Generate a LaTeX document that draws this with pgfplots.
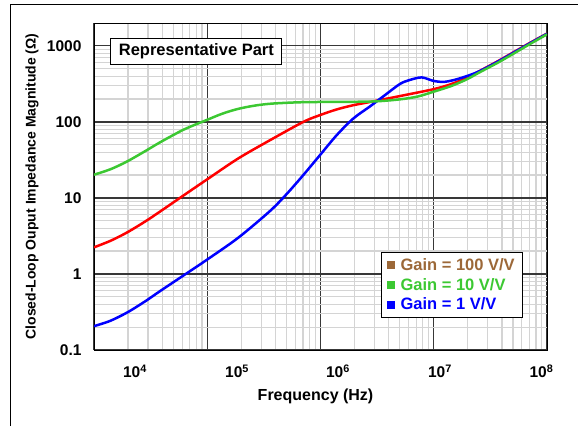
\documentclass[border=0pt]{standalone}
\usepackage{fontspec}
\setmainfont{Liberation Sans}
\usepackage{pgfplots}
\pgfplotsset{compat=1.18}
\definecolor{cred}{RGB}{255,0,0}
\definecolor{cblue}{RGB}{0,0,255}
\definecolor{cgreen}{RGB}{60,200,50}
\definecolor{cbrown}{RGB}{156,104,56}

\begin{document}
\begin{tikzpicture}
\path[use as bounding box] (0pt,0pt) rectangle (578pt,426pt);
% page frame, only left and top edges show
\draw[line width=1pt] (10.7pt,0pt) -- (10.7pt,421.7pt) -- (578pt,421.7pt);
\begin{axis}[
    at={(94pt,76pt)}, anchor=south west,
    scale only axis, width=453pt, height=327pt,
    xmode=log, ymode=log,
    xmin=1e4, xmax=1e8, ymin=0.1, ymax=2000,
    xtick={1e4,1e5,1e6,1e7,1e8}, xticklabels={{},{},{},{},{}},
    ytick={0.1,1,10,100,1000},
    yticklabels={0.1,1,10,100,1000},
    % labels sit off the decade grid lines, as in the source
    extra x ticks={2.301e4,1.832e5,1.426e6,1.135e7,8.93e7},
    extra x tick labels={10\textsuperscript{4},10\textsuperscript{5},10\textsuperscript{6},10\textsuperscript{7},10\textsuperscript{8}},
    extra x tick style={grid=none, major tick length=0pt,
      tick label style={anchor=center, yshift=-21pt}},
    major tick length=0pt, minor tick length=0pt,
    grid=both,
    major grid style={black!78, line width=1.2pt},
    minor grid style={black!17, line width=1.2pt},
    axis line style={black, line width=1pt},
    tick label style={font=\bfseries\fontsize{15.5}{18}\selectfont},
    yticklabel style={xshift=-9pt},
    xlabel={Frequency (Hz)},
    ylabel={Closed-Loop Ouput Impedance Magnitude (Ω)},
    xlabel style={font=\bfseries\fontsize{16}{18}\selectfont,
      at={(axis description cs:0.489,-0.1407)}, anchor=center},
    ylabel style={font=\bfseries\fontsize{14}{16}\selectfont,
      at={(axis description cs:-0.137,0.5)}, anchor=center},
    legend style={at={(0.633,0.3006)}, anchor=north west,
      draw=black, line width=0.8pt, fill=white,
      font=\bfseries\fontsize{16.5}{18}\selectfont,
      inner xsep=6pt, inner ysep=4pt, row sep=2.5pt,
      /tikz/every odd column/.append style={column sep=4pt}},
    legend cell align=left,
  ]
  % Gain = 100 V/V (red)
  \addplot[cred, line width=2.5pt, smooth, forget plot] coordinates {
    (1e4,2.24) (1.413e4,2.75) (1.968e4,3.53) (2.818e4,4.88) (3.881e4,6.71)
    (6.237e4,10.9) (1e5,17.6) (1.879e5,33.1) (3.581e5,57.5) (7.047e5,100)
    (9.908e5,123) (1.39e6,146) (1.95e6,166) (2.735e6,183) (5.035e6,219)
    (9.908e6,269) (1.413e7,313) (1.954e7,380) (2.559e7,470) (3.846e7,653)
    (7.079e7,1096) (1e8,1452)
  };
  % Gain = 1 V/V (blue)
  \addplot[cblue, line width=2.5pt, smooth, forget plot] coordinates {
    (1e4,0.206) (1.384e4,0.241) (1.968e4,0.312) (2.818e4,0.435) (3.881e4,0.603)
    (6.237e4,0.966) (1e5,1.55) (1.879e5,3.0) (3.581e5,6.73) (5.035e5,11.3)
    (7.047e5,20.0) (9.908e5,36.7) (1.39e6,67) (1.95e6,111) (2.735e6,160)
    (3.69e6,224) (5.035e6,316) (6.166e6,357) (7.834e6,385) (9.908e6,347)
    (1.213e7,336) (1.489e7,354) (1.954e7,400) (2.559e7,468) (3.846e7,645)
    (7.079e7,1085) (1e8,1445)
  };
  % Gain = 10 V/V (green)
  \addplot[cgreen, line width=2.5pt, smooth, forget plot] coordinates {
    (1e4,20.2) (1.413e4,24) (1.968e4,30.3) (2.818e4,41.1) (3.881e4,54.5)
    (6.237e4,79.6) (1e5,106.7) (1.371e5,129) (1.879e5,148.6) (2.63e5,164)
    (3.707e5,174) (6.31e5,181) (9.908e5,183) (2.818e6,185.5) (5.012e6,198)
    (7.244e6,216) (9.908e6,249) (1.413e7,295) (1.954e7,363) (2.559e7,452)
    (3.846e7,624) (7.079e7,1059) (1e8,1419)
  };
  \addlegendimage{legend image code/.code={\fill[cbrown] (0pt,-3.3pt) rectangle (6.6pt,3.3pt);}}
  \addlegendentry{\textcolor{cbrown}{Gain = 100 V/V}}
  \addlegendimage{legend image code/.code={\fill[cgreen] (0pt,-3.3pt) rectangle (6.6pt,3.3pt);}}
  \addlegendentry{\textcolor{cgreen}{Gain = 10 V/V}}
  \addlegendimage{legend image code/.code={\fill[cblue] (0pt,-3.3pt) rectangle (6.6pt,3.3pt);}}
  \addlegendentry{\textcolor{cblue}{Gain = 1 V/V}}
  \node[draw=black, line width=0.8pt, fill=white, inner xsep=8pt, inner ysep=5pt,
    font=\bfseries\fontsize{16.5}{19}\selectfont]
    at (rel axis cs:0.226,0.913) {Representative Part};
\end{axis}
\end{tikzpicture}
\end{document}
